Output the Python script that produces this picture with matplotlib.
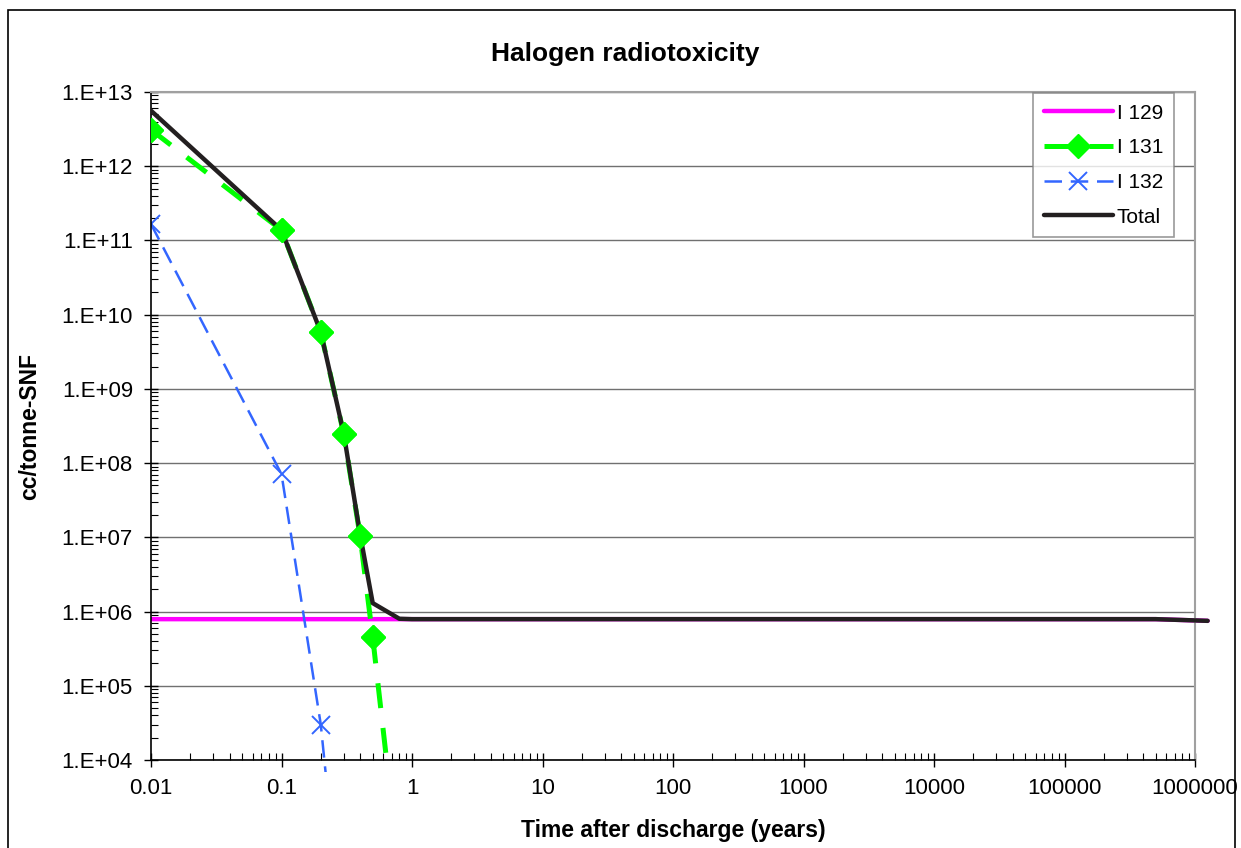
import numpy as np
import matplotlib
matplotlib.use("Agg")
import matplotlib.pyplot as plt
from matplotlib.patches import Rectangle
from matplotlib.ticker import LogLocator, FixedFormatter, FixedLocator

plt.rcParams['font.family'] = ['Liberation Sans', 'DejaVu Sans']

# time after discharge (years)
t_long = [0.01, 0.1, 0.2, 0.3, 0.4, 0.5, 0.8, 1, 10, 100, 1000, 10000, 100000, 500000, 1250000]
i129 = [7.9e5, 7.9e5, 7.9e5, 7.9e5, 7.9e5, 7.9e5, 7.9e5, 7.9e5, 7.9e5, 7.9e5, 7.9e5, 7.9e5, 7.9e5, 7.9e5, 7.5e5]
total = [5.6e12, 1.38e11, 5.8e9, 2.5e8, 1.1e7, 1.3e6, 8.0e5, 7.9e5, 7.9e5, 7.9e5, 7.9e5, 7.9e5, 7.9e5, 7.9e5, 7.5e5]

t_131 = [0.01, 0.1, 0.2, 0.3, 0.4, 0.5, 0.8]
i131 = [3.1e12, 1.38e11, 5.8e9, 2.46e8, 1.04e7, 4.5e5, 300]

t_132 = [0.01, 0.1, 0.2, 0.3]
i132 = [1.66e11, 7.1e7, 3.0e4, 25]

xticks = [0.01, 0.1, 1, 10, 100, 1000, 10000, 100000, 1000000]
xlabels = ['0.01', '0.1', '1', '10', '100', '1000', '10000', '100000', '1000000']
yticks = [10.0**k for k in range(4, 14)]
ylabels = ['1.E+%02d' % k for k in range(4, 14)]

fig = plt.figure(figsize=(12.41, 8.48), dpi=100)
ax = fig.add_axes([151/1241, 1 - 760/848, (1195-151)/1241, (760-92)/848])

# outer chart border
fig.patches.append(Rectangle((8/1241, -0.02), (1235-8)/1241, (848-10)/848 + 0.02,
                             transform=fig.transFigure, fill=False, edgecolor='black', lw=1.2))

clip = Rectangle((0, -0.018), 1.02, 1.04, transform=ax.transAxes, visible=False)
ax.add_patch(clip)

l1, = ax.plot(t_long, i129, color='#FF00FF', lw=3.2, label='I 129', zorder=2, solid_capstyle='round')
l2, = ax.plot(t_131, i131, color='#00FF00', lw=3.6, ls=(0, (5, 4)), marker='D', ms=12,
              label='I 131', zorder=2)
l3, = ax.plot(t_132, i132, color='#3366FF', lw=1.8, ls=(0, (7, 3.5)), marker='x', ms=13, mew=1.4,
              label='I 132', zorder=2)
l4, = ax.plot(t_long, total, color='#231F20', lw=3.2, label='Total', zorder=3, solid_capstyle='round')
m2, = ax.plot(t_131, i131, color='#00FF00', ls='none', marker='D', ms=12, zorder=4)
for ln in (l1, l2, l3, l4, m2):
    ln.set_clip_path(clip)

ax.set_xscale('log')
ax.set_yscale('log')
ax.set_xlim(0.01, 1e6)
ax.set_ylim(1e4, 1e13)

ax.xaxis.set_major_locator(FixedLocator(xticks))
ax.xaxis.set_major_formatter(FixedFormatter(xlabels))
ax.xaxis.set_minor_locator(LogLocator(base=10, subs=np.arange(2, 10), numticks=20))
ax.xaxis.set_minor_formatter(FixedFormatter([]))
ax.yaxis.set_major_locator(FixedLocator(yticks))
ax.yaxis.set_major_formatter(FixedFormatter(ylabels))
ax.yaxis.set_minor_locator(LogLocator(base=10, subs=np.arange(2, 10), numticks=20))
ax.yaxis.set_minor_formatter(FixedFormatter([]))

ax.tick_params(which='major', direction='inout', length=10, width=1, labelsize=16, colors='black')
ax.tick_params(which='minor', direction='in', length=5, width=0.8)
ax.tick_params(axis='x', which='major', pad=8)
ax.tick_params(axis='y', which='major', pad=8)

ax.grid(True, which='major', axis='y', color='#707070', lw=1)
ax.set_axisbelow(True)
for s in ('top', 'right'):
    ax.spines[s].set_color('#A0A0A0')
    ax.spines[s].set_linewidth(1.5)
for s in ('left', 'bottom'):
    ax.spines[s].set_color('black')
    ax.spines[s].set_linewidth(1.2)

fig.text(625/1241, 1 - 54/848, 'Halogen radiotoxicity', ha='center', va='center',
         fontsize=19, fontweight='bold')
fig.text(673/1241, 1 - 830/848, 'Time after discharge (years)', ha='center', va='center',
         fontsize=16.5, fontweight='bold')
fig.text(30/1241, 1 - 426/848, 'cc/tonne-SNF', rotation=90, ha='center', va='center',
         fontsize=16.5, fontweight='bold')

leg = ax.legend(handles=[l1, l2, l3, l4], loc='upper right', bbox_to_anchor=(0.9795, 0.998),
                fontsize=15, frameon=True, fancybox=False, edgecolor='#808080',
                handlelength=3.3, handletextpad=0.2, borderpad=0.5, labelspacing=0.75,
                borderaxespad=0)
leg.get_frame().set_linewidth(1.2)

fig.savefig('out.png', dpi=100)
